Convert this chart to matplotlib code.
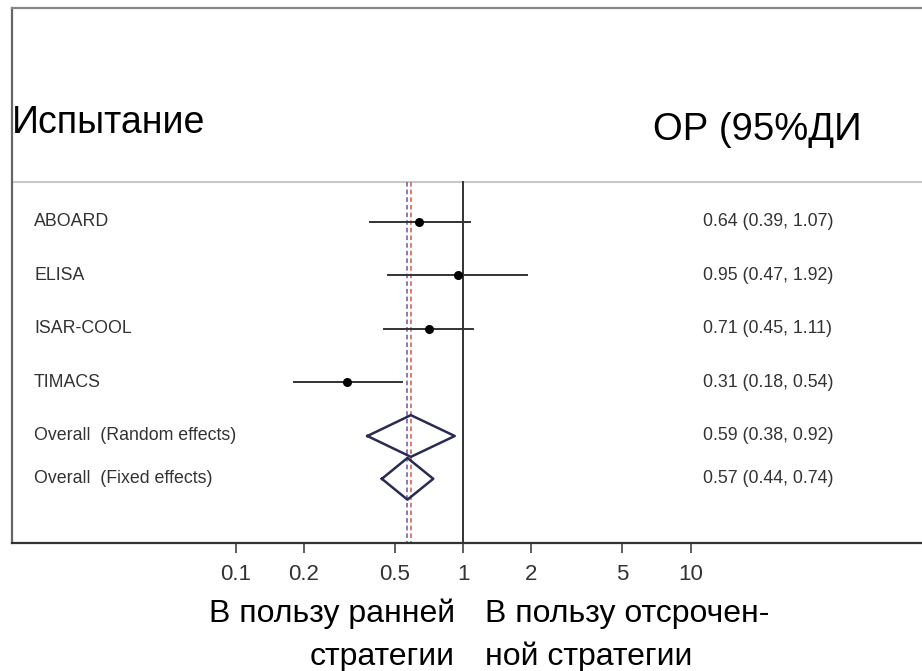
"""Forest plot: early vs delayed strategy, relative risk per trial with pooled estimates."""

import matplotlib
matplotlib.use("Agg")
import matplotlib.pyplot as plt
import matplotlib.transforms as mtransforms
import numpy as np

plt.rcParams["font.family"] = ["Liberation Sans", "DejaVu Sans"]

# Trial data (relative risk with 95% CI)
studies = ["ABOARD", "ELISA", "ISAR-COOL", "TIMACS"]
study_rr = [0.64, 0.95, 0.71, 0.31]
study_lo = [0.39, 0.47, 0.45, 0.18]
study_hi = [1.07, 1.92, 1.11, 0.54]

# Pooled estimates
pooled_labels = ["Overall  (Random effects)", "Overall  (Fixed effects)"]
pooled_rr = [0.59, 0.57]
pooled_lo = [0.38, 0.44]
pooled_hi = [0.92, 0.74]
pooled_colors = ["#d9534f", "#6a55a8"]

tick_values = [0.1, 0.2, 0.5, 1, 2, 5, 10]
tick_labels = ["0.1", "0.2", "0.5", "1", "2", "5", "10"]

header_left = "Испытание"
header_right = "ОР (95%ДИ"
favour_left = ["В пользу ранней", "стратегии"]
favour_right = ["В пользу отсрочен-", "ной стратегии"]

W, H = 922, 671
fig = plt.figure(figsize=(W / 100, H / 100), dpi=100)

# frame box in pixels: left 12, top 8, bottom 543, runs past right edge
frame_l, frame_t, frame_b, frame_r = 12, 8, 543, 945
ax = fig.add_axes([frame_l / W, (H - frame_b) / H, (frame_r - frame_l) / W, (frame_b - frame_t) / H])

# log x mapping: x=1 at px 463, one decade = 227.5 px
x_one, decade = 463, 227.5
ax.set_xscale("log")
ax.set_xlim(10 ** ((frame_l - x_one) / decade), 10 ** ((frame_r - x_one) / decade))

# rows: first row at px 222, 53.5 px per row
row0, unit = 222, 53.5
ax.set_ylim((frame_b - row0) / unit, (frame_t - row0) / unit)
sep_y = (182 - row0) / unit

rows_study = np.arange(len(studies))
rows_pooled = [4.0, 4.8]

# reference lines
ax.plot([1, 1], [sep_y, ax.get_ylim()[0]], color="#222222", lw=1.3, zorder=2)
for v, c in zip(pooled_rr, pooled_colors):
    ax.plot([v, v], [sep_y, ax.get_ylim()[0]], color=c, lw=1.1, ls=(0, (3, 2)), zorder=1)

# separator under the header
ax.axhline(sep_y, color="#c8c8c8", lw=1.5, zorder=0)

# individual trials
for y, r, lo, hi in zip(rows_study, study_rr, study_lo, study_hi):
    ax.plot([lo, hi], [y, y], color="#333333", lw=1.4, zorder=3)
    ax.plot(r, y, "o", color="black", ms=5.5, zorder=4)

# pooled diamonds
for y, r, lo, hi in zip(rows_pooled, pooled_rr, pooled_lo, pooled_hi):
    ax.plot([lo, r, hi, r, lo], [y, y - 0.39, y, y + 0.39, y], color="#2a2a55", lw=1.8, zorder=3)

# texts
lbl_tr = mtransforms.blended_transform_factory(fig.transFigure, ax.transData)
for y, name in zip(list(rows_study) + rows_pooled, studies + pooled_labels):
    ax.text(34 / W, y, name, transform=lbl_tr, fontsize=12.8, color="#333333", va="center", ha="left")

all_rr = study_rr + pooled_rr
all_lo = study_lo + pooled_lo
all_hi = study_hi + pooled_hi
for y, r, lo, hi in zip(list(rows_study) + rows_pooled, all_rr, all_lo, all_hi):
    ax.text(703 / W, y, f"{r:.2f} ({lo:.2f}, {hi:.2f})", transform=lbl_tr,
            fontsize=12.8, color="#333333", va="center", ha="left")

fig.text(12 / W, 1 - 133 / H, header_left, fontsize=27, color="black", ha="left", va="baseline")
fig.text(653 / W, 1 - 140 / H, header_right, fontsize=27.5, color="black", ha="left", va="baseline")

fig.text(455 / W, 1 - 622 / H, favour_left[0], fontsize=23, ha="right", va="baseline")
fig.text(455 / W, 1 - 665 / H, favour_left[1], fontsize=23, ha="right", va="baseline")
fig.text(485 / W, 1 - 622 / H, favour_right[0], fontsize=23, ha="left", va="baseline")
fig.text(485 / W, 1 - 665 / H, favour_right[1], fontsize=23, ha="left", va="baseline")

# axes styling
ax.set_xticks(tick_values)
ax.set_xticklabels(tick_labels)
ax.xaxis.set_minor_locator(matplotlib.ticker.NullLocator())
ax.tick_params(axis="x", direction="out", length=7, width=1.2, color="#444444",
               labelsize=16, labelcolor="#333333", pad=8)
ax.set_yticks([])
ax.spines["right"].set_visible(False)
ax.spines["left"].set_color("#666666")
ax.spines["left"].set_linewidth(1.6)
ax.spines["top"].set_color("#888888")
ax.spines["top"].set_linewidth(1.6)
ax.spines["bottom"].set_color("#333333")
ax.spines["bottom"].set_linewidth(1.6)

fig.savefig("out.png", dpi=100)
